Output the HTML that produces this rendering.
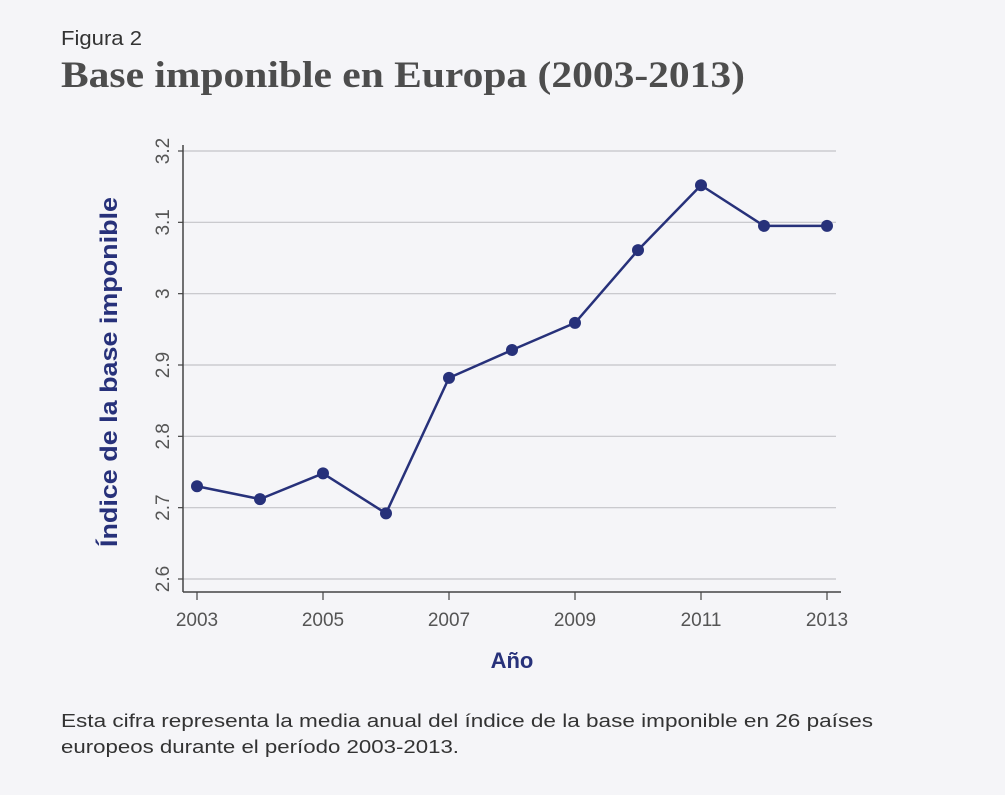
<!DOCTYPE html>
<html><head><meta charset="utf-8">
<style>
html,body{margin:0;padding:0;background:#f5f5f8;}
svg{display:block;}
</style></head>
<body>
<svg id="chart" width="1005" height="795" viewBox="0 0 1005 795" xmlns="http://www.w3.org/2000/svg">
<rect width="1005" height="795" fill="#f5f5f8"/>
<text x="61" y="45" font-family="Liberation Sans, sans-serif" font-size="20" fill="#333" textLength="81" lengthAdjust="spacingAndGlyphs">Figura 2</text>
<text x="61" y="87" font-family="Liberation Serif, serif" font-weight="bold" font-size="37" fill="#4d4d4d" textLength="684" lengthAdjust="spacingAndGlyphs">Base imponible en Europa (2003-2013)</text>
<g id="grid"></g>
<g id="axes"></g>
<g id="series"></g>
<text x="0" y="0" transform="translate(117,372) rotate(-90)" text-anchor="middle" font-family="Liberation Sans, sans-serif" font-weight="bold" font-size="24" fill="#27317a" textLength="350" lengthAdjust="spacingAndGlyphs">Índice de la base imponible</text>
<text x="512" y="668" text-anchor="middle" font-family="Liberation Sans, sans-serif" font-weight="bold" font-size="22" fill="#27317a">Año</text>
<text x="61" y="727" font-family="Liberation Sans, sans-serif" font-size="18" fill="#333" textLength="812" lengthAdjust="spacingAndGlyphs">Esta cifra representa la media anual del índice de la base imponible en 26 países</text>
<text x="61" y="753" font-family="Liberation Sans, sans-serif" font-size="18" fill="#333" textLength="398" lengthAdjust="spacingAndGlyphs">europeos durante el período 2003-2013.</text>
</svg>
<script>
const years = [2003,2004,2005,2006,2007,2008,2009,2010,2011,2012,2013];
const values = [2.730,2.712,2.748,2.692,2.882,2.921,2.959,3.061,3.152,3.095,3.095];
const yTicks = [2.6,2.7,2.8,2.9,3.0,3.1,3.2];
const yTickLabels = ["2.6","2.7","2.8","2.9","3","3.1","3.2"];
const xTicks = [2003,2005,2007,2009,2011,2013];

const NS = "http://www.w3.org/2000/svg";
function xs(v){ return 197 + (v-2003)*63; }
function ys(v){ return 579 - (v-2.6)/0.6*428; }
function mk(tag, attrs, parent){
  const e = document.createElementNS(NS, tag);
  for (const k in attrs) e.setAttribute(k, attrs[k]);
  parent.appendChild(e); return e;
}
const grid = document.getElementById('grid');
const axes = document.getElementById('axes');
const series = document.getElementById('series');

yTicks.forEach((t,i)=>{
  const y = ys(t);
  const g = mk('line',{x1:183,x2:836,y1:y,y2:y,stroke:'#c4c4c8','stroke-width':1.2},grid);
  
  
  const tk = mk('line',{x1:178,x2:183,y1:y,y2:y,stroke:'#444','stroke-width':1.2},axes);
  
  
  const lb = mk('text',{x:0,y:0,transform:`translate(169,${y}) rotate(-90)`,'text-anchor':'middle','font-family':'Liberation Sans, sans-serif','font-size':19,fill:'#555'},axes);
  lb.textContent = yTickLabels[i];
  
  
});
const ya = mk('line',{x1:183,x2:183,y1:145,y2:592,stroke:'#444','stroke-width':1.5},axes);


const xa = mk('line',{x1:183,x2:841,y1:592,y2:592,stroke:'#444','stroke-width':1.5},axes);


xTicks.forEach(t=>{
  const x = xs(t);
  const tk = mk('line',{x1:x,x2:x,y1:592,y2:600,stroke:'#444','stroke-width':1.2},axes);
  
  
  const lb = mk('text',{x:x,y:626,'text-anchor':'middle','font-family':'Liberation Sans, sans-serif','font-size':19,fill:'#555'},axes);
  lb.textContent = String(t);
  
  
});
const pts = years.map((yr,i)=>xs(yr)+','+ys(values[i])).join(' ');
const pl = mk('polyline',{points:pts,fill:'none',stroke:'#27317a','stroke-width':2.5,'stroke-linejoin':'round'},series);


years.forEach((yr,i)=>{
  const c = mk('circle',{cx:xs(yr),cy:ys(values[i]),r:6,fill:'#27317a'},series);
  
  
});
</script>
</body></html>
